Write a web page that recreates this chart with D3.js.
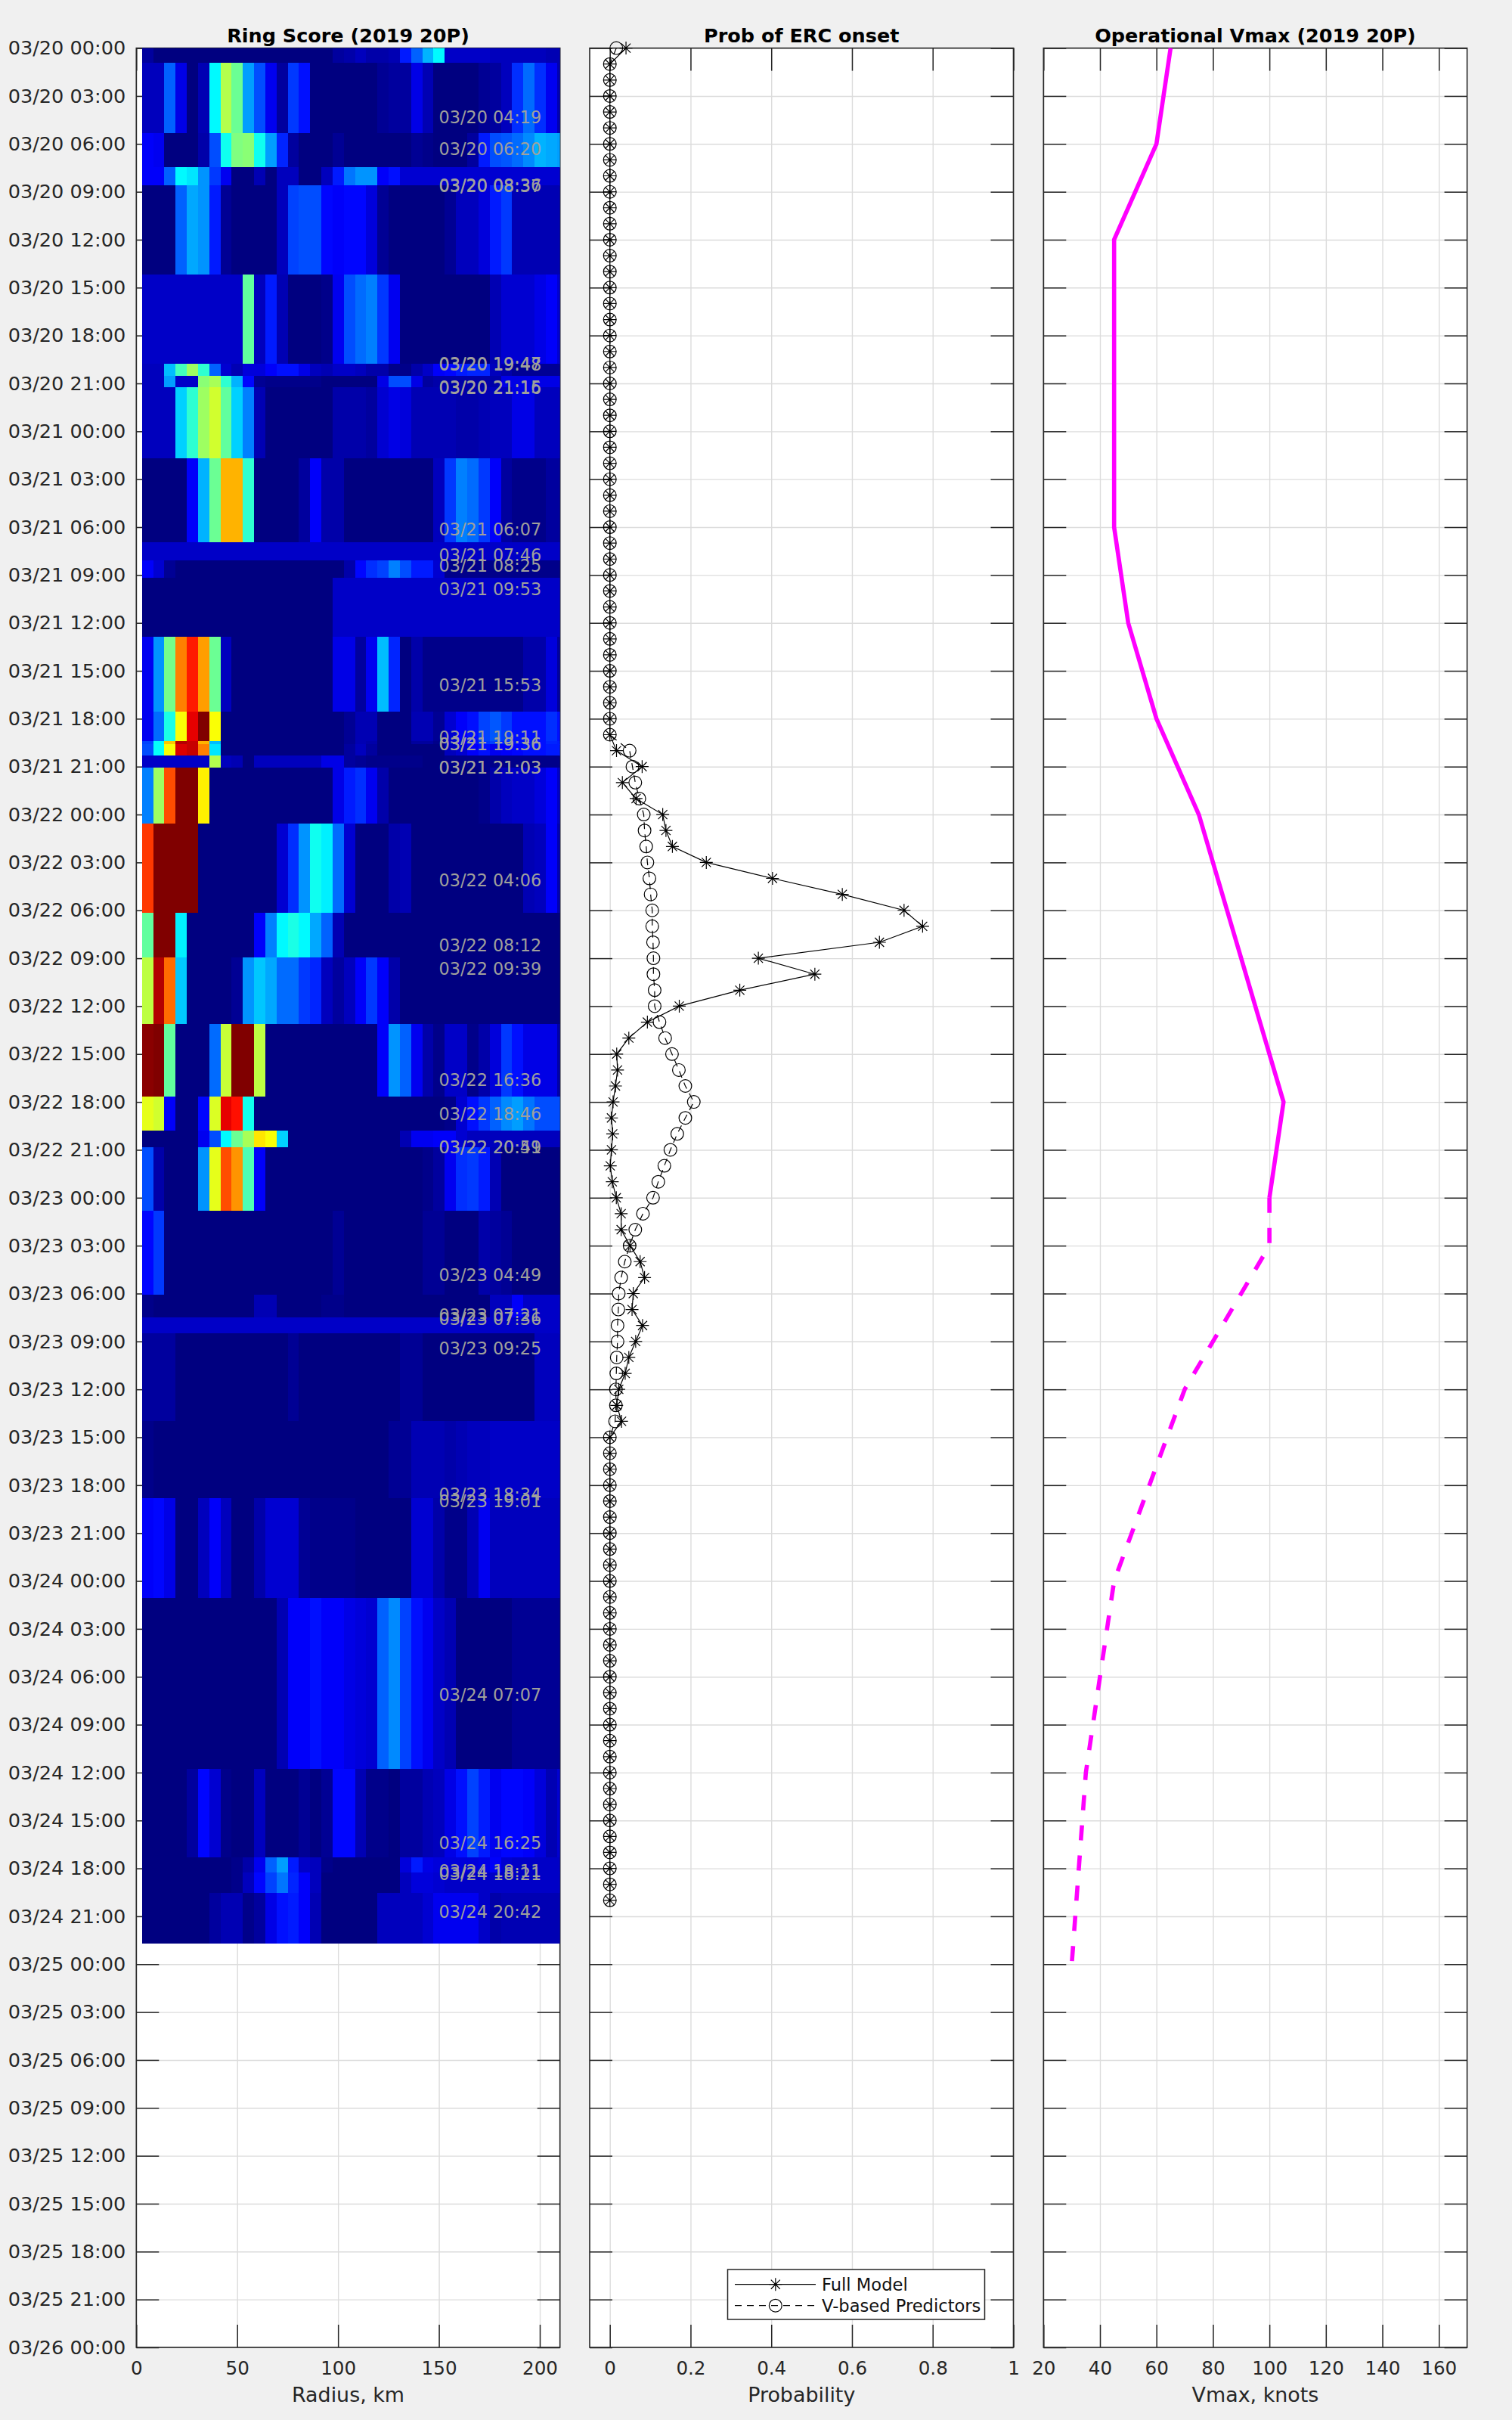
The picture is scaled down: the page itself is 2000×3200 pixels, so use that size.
<!DOCTYPE html>
<html><head><meta charset="utf-8">
<script src="https://cdn.jsdelivr.net/npm/d3@7"></script>
<style>
html,body{margin:0;padding:0;background:#f0f0f0}
svg{display:block}
text{font-family:"DejaVu Sans",sans-serif;fill:#262626}
</style></head><body>
<svg id="c" width="2000" height="3200"></svg>
<script>
// ---------- data ----------
const timeStart = "03/20 00:00", timeEnd = "03/26 00:00";
const scanTimes = ["03/19 21:30","03/20 04:19","03/20 06:20","03/20 08:36","03/20 08:37","03/20 19:47","03/20 19:48","03/20 21:15","03/20 21:16",
"03/21 06:07","03/21 07:46","03/21 08:25","03/21 09:53","03/21 15:53","03/21 19:11","03/21 19:36","03/21 19:36","03/21 21:03","03/21 21:03",
"03/22 04:06","03/22 08:12","03/22 09:39","03/22 16:36","03/22 18:46","03/22 20:49","03/22 20:51",
"03/23 04:49","03/23 07:21","03/23 07:36","03/23 09:25","03/23 18:34","03/23 19:01",
"03/24 07:07","03/24 16:25","03/24 18:11","03/24 18:21","03/24 20:42"];
const lastRowEnd = "03/24 22:42";
const radiusStep = 5.56;
// ring score per scan (rows) and radius bin (columns), 0-100
const ringScore = [
[3,0,0,0,0,0,0,0,0,0,0,0,0,0,0,0,0,3,4,6,4,4,5,15,22,30,37,7,7,7,7,6,6,6,6,6,5,5],
[6,6,22,10,0,5,37,55,48,28,20,11,3,18,14,0,0,0,0,0,0,2,3,3,10,5,0,0,0,0,2,3,6,17,23,17,11,5],
[12,11,0,0,0,4,20,39,50,51,39,28,16,3,0,0,0,2,0,0,0,0,0,0,2,1,0,0,0,3,15,20,21,23,26,30,29,28],
[12,12,22,37,35,27,18,11,0,0,5,0,6,6,0,0,6,15,24,27,27,12,14,8,8,8,8,8,8,8,8,8,8,8,8,8,8,8],
[0,0,0,22,29,27,15,2,0,0,0,0,6,19,20,20,13,12,13,13,9,2,0,0,0,0,0,2,6,6,9,15,18,5,5,5,5,5],
[7,7,7,7,7,7,7,7,7,47,6,15,5,0,0,0,1,11,20,23,25,18,11,0,0,0,0,0,0,0,0,5,8,8,8,10,12,8],
[6,6,31,44,53,42,22,8,5,9,9,12,14,14,10,6,5,7,7,6,4,4,1,1,4,7,12,13,15,16,16,6,4,2,2,2,2,2],
[6,6,28,7,7,51,54,42,30,13,2,1,1,1,1,1,0,0,0,0,0,10,20,20,10,3,4,4,4,4,4,4,10,10,10,10,10,10],
[6,6,6,33,42,53,58,47,33,25,5,0,0,0,0,0,0,4,4,4,3,8,10,9,5,5,5,5,4,4,5,6,6,10,10,6,6,6],
[0,0,0,0,12,30,48,70,70,42,0,0,0,0,3,12,4,4,0,0,0,0,0,0,0,0,6,18,25,23,18,12,3,1,1,1,3,3],
[7,7,7,7,7,7,7,7,7,7,7,7,7,7,7,7,7,7,7,7,7,7,7,7,7,7,7,7,7,7,7,7,7,7,7,7,7,7],
[12,8,2,0,0,0,0,0,0,0,0,0,0,0,0,0,0,0,4,13,17,19,25,20,15,15,8,1,1,1,1,1,1,1,1,1,1,1],
[0,0,0,0,0,0,0,0,0,0,0,0,0,0,0,0,0,7,7,7,7,7,7,7,7,7,7,7,7,7,7,7,7,7,7,7,7,7],
[11,27,49,75,85,72,48,6,0,0,0,0,0,0,0,0,0,10,10,3,11,31,16,0,4,1,1,1,1,1,1,1,1,1,4,4,9,3],
[11,23,40,62,90,100,62,0,0,0,0,0,0,0,0,0,0,0,2,5,5,0,0,0,5,5,2,8,12,14,19,21,18,14,14,14,17,14],
[19,38,68,95,93,70,31,0,0,0,0,0,0,0,0,0,0,0,2,5,4,0,0,0,3,3,1,8,11,14,18,19,16,14,14,14,16,15],
[20,38,62,91,93,75,35,0,0,0,0,0,0,0,0,0,0,0,3,6,3,0,0,0,0,0,0,6,8,12,14,11,12,13,14,14,15,15],
[7,7,7,7,7,7,55,6,5,0,6,6,6,6,6,6,10,10,3,2,1,1,1,1,1,0,0,1,1,1,1,1,1,1,1,1,1,1],
[25,53,80,100,100,64,0,0,0,0,0,0,0,0,0,0,0,10,15,17,11,4,0,0,0,0,0,0,0,0,1,4,6,7,7,9,12,7],
[82,100,100,100,100,0,0,0,0,0,0,0,8,17,27,39,36,23,8,0,0,0,4,5,0,0,0,0,0,0,0,0,0,0,5,6,12,5],
[47,100,100,36,0,0,0,0,0,0,12,25,37,40,37,29,22,5,0,0,0,0,0,0,0,0,0,0,0,0,0,0,0,0,0,0,0,0],
[56,95,77,32,0,0,0,0,2,27,32,29,23,23,18,16,6,3,6,12,18,12,4,0,0,0,0,0,0,0,0,0,0,0,0,0,0,0],
[99,100,47,0,0,0,23,57,100,100,56,0,0,0,0,0,0,0,0,0,0,12,27,22,11,4,1,7,7,1,4,9,18,14,10,10,10,4],
[60,58,12,0,0,13,59,90,86,39,0,0,0,0,0,0,0,0,0,0,0,0,0,0,0,0,0,1,8,14,18,22,26,28,24,20,20,20],
[0,0,0,0,0,11,20,37,48,54,65,62,33,0,0,0,0,0,0,0,0,0,0,5,11,11,12,12,8,6,6,6,6,6,6,6,6,6],
[20,4,0,0,0,27,60,80,73,45,12,0,0,0,0,0,0,0,0,0,0,0,0,0,0,1,3,11,17,18,15,5,0,0,0,0,0,0],
[13,18,0,0,0,0,0,0,0,0,0,0,0,0,0,0,0,2,0,0,0,0,0,0,0,2,2,0,0,0,4,3,2,0,0,0,0,0],
[1,0,0,0,0,0,0,0,0,0,5,5,0,0,0,0,1,1,0,0,0,0,0,0,0,0,0,0,0,0,0,6,6,12,7,7,7,7],
[7,7,7,7,7,7,7,7,7,7,7,7,7,7,7,7,7,7,7,7,7,7,7,7,7,7,7,7,7,7,7,7,7,7,7,7,7,7],
[3,3,3,0,0,0,0,0,0,0,0,0,0,2,0,0,0,0,0,0,0,0,0,2,2,0,0,0,0,0,0,0,0,0,0,6,6,6],
[1,0,0,0,0,0,0,0,0,0,0,0,0,0,0,0,0,0,0,0,0,0,2,2,5,5,5,4,5,6,6,7,7,7,7,7,7,7],
[12,13,10,0,0,6,12,6,0,0,4,8,8,8,2,1,1,1,1,0,0,0,0,0,8,8,4,1,1,5,11,6,6,6,6,6,6,6],
[0,0,0,0,0,0,0,0,0,0,0,0,5,12,12,14,12,12,10,9,8,22,26,19,14,11,7,5,0,0,0,0,0,2,2,2,2,2],
[0,0,0,0,3,13,8,1,0,0,6,0,0,0,2,0,2,13,13,5,1,1,0,3,3,5,6,10,14,19,15,11,13,13,12,9,5,8],
[0,0,0,0,0,0,0,0,1,4,11,22,28,15,7,6,1,0,0,0,0,0,0,9,15,10,9,9,9,9,10,12,8,7,7,7,7,7],
[0,0,0,0,0,0,0,0,1,6,13,19,24,16,12,6,0,0,0,0,0,0,0,6,9,9,8,7,7,7,7,7,7,7,7,7,7,7],
[0,0,0,0,0,0,3,5,5,1,3,10,14,15,12,5,0,0,0,0,0,6,6,6,6,8,11,11,11,11,7,4,5,5,5,5,5,5]
];
// hourly probabilities from 03/20 00:00
const probFull = [.04,
0,0,0,0,0,0,0,0,0,0,0,0,0,0,0,0,0,0,0,0,0,0,0,0,0,0,0,0,0,0,0,0,0,0,0,0,0,0,0,0,0,0,0,
.0165,.08,.031,.065,.131,.139,.155,.239,.403,.576,.729,.775,.668,.368,.508,.322,.172,.093,.047,.017,.019,.014,.008,.004,.007,.004,.001,.006,.016,.028,.028,.05,.075,.086,.058,.055,.081,.064,.047,.038,.022,.017,.029,
0,0,0,0,0,0,0,0,0,0,0,0,0,0,0,0,0,0,0,0,0,0,0,0,0,0,0,0,0,0];
const probV = [.016,
0,0,0,0,0,0,0,0,0,0,0,0,0,0,0,0,0,0,0,0,0,0,0,0,0,0,0,0,0,0,0,0,0,0,0,0,0,0,0,0,0,0,0,
.049,.056,.063,.073,.084,.086,.09,.093,.098,.101,.105,.105,.107,.108,.108,.111,.111,.123,.137,.154,.171,.187,.208,.187,.167,.15,.135,.12,.107,.082,.063,.049,.037,.028,.022,.021,.019,.019,.017,.016,.015,.015,.013,
0,0,0,0,0,0,0,0,0,0,0,0,0,0,0,0,0,0,0,0,0,0,0,0,0,0,0,0,0,0];
// operational Vmax (hours from 03/20 00:00, knots)
const vmaxHours = [0,6,12,18,24,30,36,42,48,54,60,66,72];
const vmaxKnots = [65,60,45,45,45,45,50,60,75,85,95,105,100];
const fcstHours = [72,75,84,96,108,120];
const fcstKnots = [100,100,70,45,35,30];
const radiusTicks = [0,50,100,150,200];
const probTicks = [0,.2,.4,.6,.8,1];
const vmaxTicks = [20,40,60,80,100,120,140,160];
const titles = ["Ring Score (2019 20P)","Prob of ERC onset","Operational Vmax (2019 20P)"];
const xLabels = ["Radius, km","Probability","Vmax, knots"];
const legendNames = ["Full Model","V-based Predictors"];

// ---------- layout ----------
const plotTop=63.6, plotBottom=3104;
const parse=d3.utcParse("%m/%d %H:%M"), fmt=d3.utcFormat("%m/%d %H:%M");
const yT=d3.scaleUtc().domain([parse(timeStart),parse(timeEnd)]).range([plotTop,plotBottom]);
const hourDate=h=>d3.utcHour.offset(parse(timeStart),h);
const xR=d3.scaleLinear().domain([0,210]).range([180.3,740.7]);
const xP=d3.scaleLinear().domain([-.05,1]).range([780,1340.5]);
const xV=d3.scaleLinear().domain([20,170]).range([1380.3,1940.6]);
const jet=d3.scaleLinear().domain([0,12.5,37.5,62.5,87.5,100]).range(["#000080","#0000ff","#00ffff","#ffff00","#ff0000","#800000"]);
const INK="#262626", GRID="#dcdcdc", FSY=25.6, FSX=24.6;
const svg=d3.select("#c");
svg.append("rect").attr("width",2000).attr("height",3200).attr("fill","#f0f0f0");

function panel(x,ticks,title,xlabel,withDates){
  const [x0,x1]=x.range();
  const g=svg.append("g");
  g.append("rect").attr("x",x0).attr("y",plotTop).attr("width",x1-x0).attr("height",plotBottom-plotTop).attr("fill","#fff");
  // grid
  const gx=g.append("g").attr("transform",`translate(0,${plotBottom})`)
    .call(d3.axisBottom(x).tickValues(ticks).tickSize(-(plotBottom-plotTop)).tickFormat(""));
  const gy=g.append("g").attr("transform",`translate(${x0},0)`)
    .call(d3.axisLeft(yT).ticks(d3.utcHour.every(3)).tickSize(-(x1-x0)).tickFormat(""));
  [gx,gy].forEach(a=>{a.select(".domain").remove();a.selectAll("line").attr("stroke",GRID).attr("stroke-width",1.4);});
  // ticks
  const axB=g.append("g").attr("transform",`translate(0,${plotBottom})`)
    .call(d3.axisBottom(x).tickValues(ticks).tickSizeInner(-30).tickSizeOuter(0).tickPadding(19).tickFormat(d=>String(d)));
  const axT=g.append("g").attr("transform",`translate(0,${plotTop})`)
    .call(d3.axisTop(x).tickValues(ticks).tickSizeInner(-30).tickSizeOuter(0).tickFormat(""));
  const axL=g.append("g").attr("transform",`translate(${x0},0)`)
    .call(d3.axisLeft(yT).ticks(d3.utcHour.every(3)).tickSizeInner(-30).tickSizeOuter(0).tickPadding(14).tickFormat(withDates?fmt:""));
  const axR=g.append("g").attr("transform",`translate(${x1},0)`)
    .call(d3.axisRight(yT).ticks(d3.utcHour.every(3)).tickSizeInner(-30).tickSizeOuter(0).tickFormat(""));
  [axB,axT,axL,axR].forEach((a,k)=>{a.select(".domain").remove();a.selectAll("line").attr("stroke",INK).attr("stroke-width",1.5);
    a.selectAll("text").style("font-size",(k===0?FSX:FSY)+"px").style("font-family",'"DejaVu Sans"').attr("fill",INK);});
  g.append("rect").attr("x",x0).attr("y",plotTop).attr("width",x1-x0).attr("height",plotBottom-plotTop)
    .attr("fill","none").attr("stroke",INK).attr("stroke-width",1.6);
  const cx=(x0+x1)/2;
  svg.append("text").attr("x",cx).attr("y",55.5).attr("text-anchor","middle")
    .style("font-size","25.5px").style("font-weight","bold").style("fill","#000").text(title);
  svg.append("text").attr("x",cx).attr("y",3176).attr("text-anchor","middle")
    .style("font-size","26.9px").text(xlabel);
}
panel(xR,radiusTicks,titles[0],xLabels[0],true);
panel(xP,probTicks,titles[1],xLabels[1],false);
panel(xV,vmaxTicks,titles[2],xLabels[2],false);

// ---------- panel 1 : ring score image ----------
const defs=svg.append("defs");
defs.append("clipPath").attr("id","clipR").append("rect")
  .attr("x",xR.range()[0]).attr("y",plotTop).attr("width",xR.range()[1]-xR.range()[0]).attr("height",plotBottom-plotTop);
const scanDates=scanTimes.map(parse);
const edge=i=>{
  if(i>=scanDates.length) return parse(lastRowEnd);
  if(i===0) return d3.utcHour.offset(scanDates[0],-3);
  return new Date((+scanDates[i-1] + +scanDates[i])/2);
};
const heat=svg.append("g").attr("clip-path","url(#clipR)").attr("shape-rendering","crispEdges");
ringScore.forEach((row,i)=>{
  heat.selectAll(null).data(row).enter().append("rect")
    .attr("x",(d,j)=>xR((j+.5)*radiusStep))
    .attr("width",xR(radiusStep)-xR(0)+.4)
    .attr("y",yT(edge(i)))
    .attr("height",yT(edge(i+1))-yT(edge(i))+.4)
    .attr("fill",d=>jet(d));
});
svg.append("g").selectAll("text").data(scanTimes.slice(1)).enter().append("text")
  .attr("x",xR(150)).attr("y",d=>yT(parse(d))).attr("dy",".36em")
  .style("font-size","22.3px").style("fill","#a0a09c").text(d=>d);

// ---------- panel 2 : probabilities ----------
const lineP=d3.line().x(d=>xP(d)).y((d,i)=>yT(hourDate(i)));
const star={draw(ctx,size){const r=Math.sqrt(size),q=r*Math.SQRT1_2;
  ctx.moveTo(-r,0);ctx.lineTo(r,0);ctx.moveTo(0,-r);ctx.lineTo(0,r);
  ctx.moveTo(-q,-q);ctx.lineTo(q,q);ctx.moveTo(-q,q);ctx.lineTo(q,-q);}};
const starPath=d3.symbol().type(star).size(8.5*8.5)();
const circlePath=d3.symbol().type(d3.symbolCircle).size(Math.PI*8.4*8.4)();
const p=svg.append("g").attr("fill","none").attr("stroke","#000").attr("stroke-width",1.2);
p.append("path").attr("d",lineP(probFull));
p.append("path").attr("d",lineP(probV)).attr("stroke-dasharray","9 7");
p.selectAll(".s").data(probFull).enter().append("path").attr("class","s")
  .attr("d",starPath).attr("transform",(d,i)=>`translate(${xP(d)},${yT(hourDate(i))})`);
p.selectAll(".o").data(probV).enter().append("path").attr("class","o")
  .attr("d",circlePath).attr("transform",(d,i)=>`translate(${xP(d)},${yT(hourDate(i))})`);
// legend
const lg=svg.append("g");
lg.append("rect").attr("x",962.5).attr("y",3001).attr("width",340).attr("height",66)
  .attr("fill","#fff").attr("stroke",INK).attr("stroke-width",1.5);
[3020.7,3048.7].forEach((ly,i)=>{
  lg.append("line").attr("x1",972).attr("x2",1079).attr("y1",ly).attr("y2",ly)
    .attr("stroke","#000").attr("stroke-width",1.2).attr("stroke-dasharray",i?"9 7":null);
  lg.append("path").attr("d",i?circlePath:starPath).attr("transform",`translate(1025.8,${ly})`)
    .attr("fill","none").attr("stroke","#000").attr("stroke-width",1.2);
  lg.append("text").attr("x",1087).attr("y",ly).attr("dy",".36em").style("font-size","22.6px").style("fill","#111").text(legendNames[i]);
});

// ---------- panel 3 : Vmax ----------
const lineV=d3.line().x(d=>xV(d[1])).y(d=>yT(hourDate(d[0])));
const vg=svg.append("g").attr("fill","none").attr("stroke","#ff00ff").attr("stroke-width",5.6).attr("stroke-linejoin","round");
vg.append("path").attr("d",lineV(d3.zip(vmaxHours,vmaxKnots)));
vg.append("path").attr("d",lineV(d3.zip(fcstHours,fcstKnots))).attr("stroke-dasharray","20 20");
</script>
</body></html>
